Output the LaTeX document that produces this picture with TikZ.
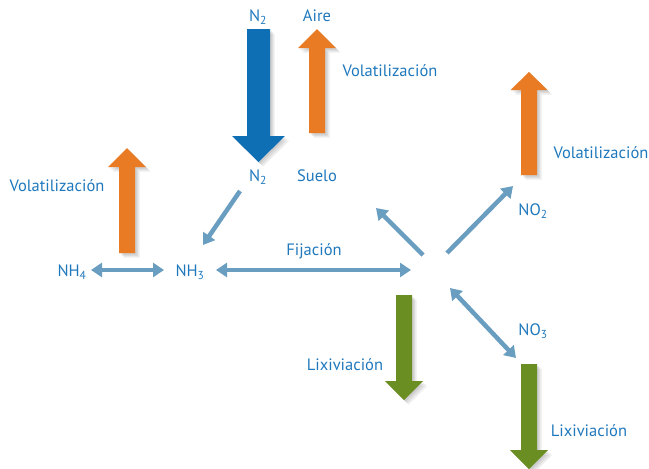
\documentclass[tikz,border=0pt]{standalone}
\usepackage{fontspec}
\setmainfont{PT Sans}
\usetikzlibrary{arrows.meta}
\definecolor{txt}{HTML}{1F78BC}
\definecolor{conn}{HTML}{6A9EC0}
\definecolor{bluearrow}{HTML}{0E6FB5}
\definecolor{orangearrow}{HTML}{E87B23}
\definecolor{greenarrow}{HTML}{6B8E23}
\newcommand\flowarrow[7]{%
  % #1 cx, #2 tail y, #3 head base y, #4 tip y, #5 half shaft, #6 half head, #7 colour
  \foreach \s in {1.5,3,4.5}{%
    \fill[black,opacity=0.07] ({#1-#5+\s},{#2+\s}) -- ({#1-#5+\s},{#3+\s}) -- ({#1-#6+\s},{#3+\s}) -- ({#1+\s},{#4+\s}) -- ({#1+#6+\s},{#3+\s}) -- ({#1+#5+\s},{#3+\s}) -- ({#1+#5+\s},{#2+\s}) -- cycle;}
  \fill[#7] ({#1-#5},#2) -- ({#1-#5},#3) -- ({#1-#6},#3) -- (#1,#4) -- ({#1+#6},#3) -- ({#1+#5},#3) -- ({#1+#5},#2) -- cycle;}
\begin{document}
\begin{tikzpicture}[x=1pt,y=-1pt,
  lbl/.style={text=txt,font=\fontsize{16.5}{19}\selectfont,inner sep=1pt},
  connline/.style={draw=conn,line width=4.5pt},
  tip/.style={-{Triangle[length=11pt,width=14pt]}},
  dtip/.style={{Triangle[length=11pt,width=14pt]}-{Triangle[length=11pt,width=14pt]}}]
\useasboundingbox (0,0) rectangle (649,469);
% big flow arrows
\flowarrow{258.5}{29}{136}{162}{11.5}{26.5}{bluearrow}
\flowarrow{317}{133}{48}{29}{8}{19}{orangearrow}
\flowarrow{127}{253}{167}{148}{8}{19}{orangearrow}
\flowarrow{529}{175}{90}{72}{8}{18.5}{orangearrow}
\flowarrow{404}{295}{381}{400}{8}{19}{greenarrow}
\flowarrow{529}{364}{450}{469}{8}{19}{greenarrow}
% labels
\node[lbl] (n2top) at (258,17) {N\textsubscript{2}};
\node[lbl] (aire) at (317,16) {Aire};
\node[lbl] (vol1) at (390,71) {Volatilización};
\node[lbl] (n2b) at (258,177) {N\textsubscript{2}};
\node[lbl] (suelo) at (317,176) {Suelo};
\node[lbl] (vol2) at (57,186) {Volatilización};
\node[lbl] (nh4) at (72,272) {NH\textsubscript{4}};
\node[lbl] (nh3) at (190,272) {NH\textsubscript{3}};
\node[lbl] (fij) at (314,251) {Fijación};
\node[lbl] (no2) at (533,211) {NO\textsubscript{2}};
\node[lbl] (vol3) at (601,153) {Volatilización};
\node[lbl] (no3) at (533,331) {NO\textsubscript{3}};
\node[lbl] (lix1) at (345,365) {Lixiviación};
\node[lbl] (lix2) at (589,431) {Lixiviación};
% connector end points
\coordinate (n2s) at (240,191);
\coordinate (nh3n) at (203,245);
\coordinate (nh4e) at (91,270);
\coordinate (nh3w) at (164,270);
\coordinate (nh3e) at (216,270);
\coordinate (hubW) at (411,270);
\coordinate (hubNW) at (423,255);
\coordinate (freeNW) at (376,208);
\coordinate (hubNE) at (447,253);
\coordinate (no2sw) at (513,186);
\coordinate (hubSE) at (450,288);
\coordinate (no3nw) at (516,358);
% connectors
\draw[connline,tip] (n2s) -- (nh3n);
\draw[connline,dtip] (nh4e) -- (nh3w);
\draw[connline,dtip] (nh3e) -- (hubW);
\draw[connline,tip] (hubNW) -- (freeNW);
\draw[connline,tip] (hubNE) -- (no2sw);
\draw[connline,dtip] (hubSE) -- (no3nw);
\end{tikzpicture}
\end{document}
